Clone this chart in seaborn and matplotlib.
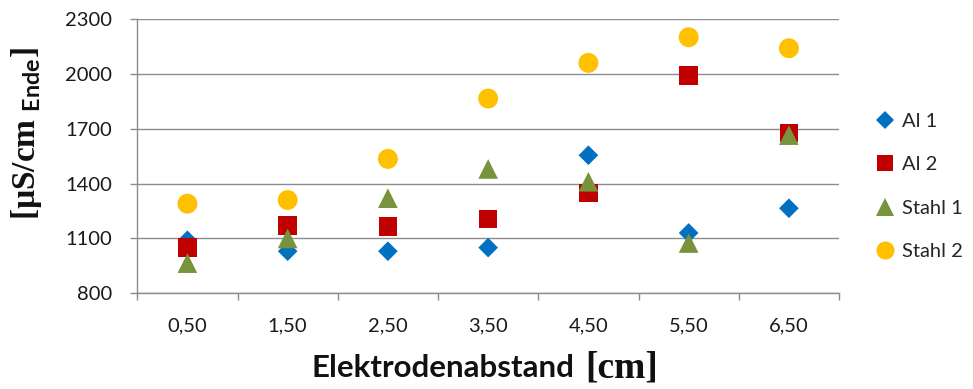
import numpy as np
import pandas as pd
import matplotlib
matplotlib.use("Agg")
import matplotlib.pyplot as plt
from matplotlib.lines import Line2D
import seaborn as sns

# Electrode distances (categorical x axis)
abstand = ["0,50", "1,50", "2,50", "3,50", "4,50", "5,50", "6,50"]

# Final conductivity per electrode pair [µS/cm]
al_1 = [1090, 1030, 1030, 1050, 1555, 1130, 1265]
al_2 = [1050, 1170, 1165, 1205, 1350, 1990, 1675]
stahl_1 = [965, 1100, 1320, 1480, 1410, 1075, 1665]
stahl_2 = [1290, 1310, 1535, 1865, 2060, 2200, 2140]

serien = ["Al 1", "Al 2", "Stahl 1", "Stahl 2"]
y_ticks = [800, 1100, 1400, 1700, 2000, 2300]

farben = {"Al 1": "#0070C0", "Al 2": "#C00000", "Stahl 1": "#77933C", "Stahl 2": "#FFC000"}
marker = {"Al 1": "D", "Al 2": "s", "Stahl 1": "^", "Stahl 2": "o"}
groessen = {"Al 1": 100, "Al 2": 175, "Stahl 1": 200, "Stahl 2": 205}

df = pd.DataFrame({
    "Abstand": abstand * 4,
    "Wert": al_1 + al_2 + stahl_1 + stahl_2,
    "Serie": np.repeat(serien, len(abstand)),
})

sns.set_theme(style="white")
plt.rcParams["font.family"] = ["Lato", "DejaVu Sans"]
plt.rcParams["mathtext.fontset"] = "custom"
plt.rcParams["mathtext.bf"] = "Liberation Serif:bold"
plt.rcParams["mathtext.rm"] = "Liberation Serif"
plt.rcParams["mathtext.sf"] = "Lato:bold"

fig = plt.figure(figsize=(9.73, 3.89), dpi=100)
ax = fig.add_axes([0.1411, 0.246, 0.7212, 0.7052])

sns.scatterplot(
    data=df, x="Abstand", y="Wert",
    hue="Serie", style="Serie", size="Serie",
    palette=farben, markers=marker, sizes=groessen,
    hue_order=serien, style_order=serien, size_order=serien,
    linewidth=0, legend=False, ax=ax, zorder=3,
)

grau = "#8c8c8c"
ax.set_xlim(-0.5, len(abstand) - 0.5)
ax.set_ylim(800, 2300)
ax.set_yticks(y_ticks)
ax.set_xticks(range(len(abstand)))
ax.set_xticklabels(abstand)
ax.set_xticks(np.arange(-0.5, len(abstand), 1.0), minor=True)
ax.tick_params(axis="x", which="major", length=0, pad=17, labelsize=14.5, labelcolor="#1a1a1a")
ax.tick_params(axis="x", which="minor", length=5, width=1, color=grau, direction="out", bottom=True)
ax.tick_params(axis="y", length=5, width=1, color=grau, direction="out", left=True, pad=13,
               labelsize=14.5, labelcolor="#1a1a1a")
ax.grid(axis="y", color=grau, linewidth=1)
ax.grid(axis="x", visible=False)
ax.set_axisbelow(True)
ax.set_xlabel("")
ax.set_ylabel("")
for side in ["top", "right"]:
    ax.spines[side].set_visible(False)
for side in ["left", "bottom"]:
    ax.spines[side].set_color(grau)
    ax.spines[side].set_linewidth(1)

# y axis title: serif unit with sans subscript
fig.text(27 / 973, 1 - 134 / 389, r"$\mathbf{[µS/cm}_{\ \mathsf{Ende}}\mathbf{]}$",
         rotation=90, ha="center", va="center", fontsize=24, color="#111111")

# x axis title: sans word followed by serif unit
fig.text(312 / 973, 1 - 377 / 389, "Elektrodenabstand", ha="left", va="baseline",
         fontsize=22.5, fontweight="bold", color="#111111")
fig.text(585 / 973, 1 - 377 / 389, "[cm]", ha="left", va="baseline",
         fontsize=27, fontweight="bold", family="Liberation Serif", color="#111111")

handles = [
    Line2D([], [], linestyle="none", marker=marker[s], markerfacecolor=farben[s],
           markeredgewidth=0, markersize=ms)
    for s, ms in zip(serien, [9, 12, 13, 13])
]
fig.legend(handles, serien, loc="upper left", bbox_to_anchor=(875 / 973, 1 - 113 / 389),
           frameon=False, fontsize=14.5, handlelength=1.0, handletextpad=0.35,
           labelspacing=1.3, borderaxespad=0, borderpad=0)

fig.savefig("out.png", dpi=100)
